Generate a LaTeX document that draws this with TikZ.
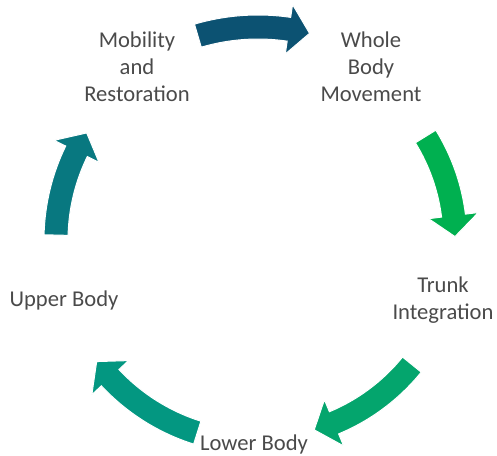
\documentclass[tikz,border=0pt]{standalone}
\usepackage{fontspec}
\setmainfont{Carlito}
\definecolor{txt}{HTML}{4A4A4A}
\definecolor{cA}{HTML}{0C5272}
\definecolor{cB}{HTML}{00B050}
\definecolor{cC}{HTML}{04A56D}
\definecolor{cD}{HTML}{039781}
\definecolor{cE}{HTML}{087880}
\newcommand\cyclearrow[4]{%
  \pgfmathsetmacro\ab{#3+21/#4*57.2958}%
  \pgfmathsetmacro\ro{#4+12}%
  \pgfmathsetmacro\ri{#4-12}%
  \pgfmathsetmacro\ho{#4+25}%
  \pgfmathsetmacro\hi{#4-25}%
  \filldraw[arrowshape,fill=#1] (#2:\ro pt) arc[start angle=#2,end angle=\ab,radius=\ro pt]
    -- (\ab:\ho pt) -- (#3:#4 pt) -- (\ab:\hi pt) -- (\ab:\ri pt)
    arc[start angle=\ab,end angle=#2,radius=\ri pt] -- cycle;}
\begin{document}
\begin{tikzpicture}[x=1pt,y=1pt,
  label/.style={font=\fontsize{22.6}{27}\selectfont,text=txt,align=center,inner sep=0pt},
  arrowshape/.style={draw=white,line width=1pt}]
\useasboundingbox (0,0) rectangle (497,455);
\begin{scope}[shift={(258,215)}]
  \cyclearrow{cA}{106.4}{76}{213}
  \cyclearrow{cB}{31.7}{1}{197}
  \cyclearrow{cC}{321}{286.5}{198}
  \cyclearrow{cD}{252.5}{217}{202}
  \cyclearrow{cE}{178.6}{148}{202}
\end{scope}
\node[label] (mob) at (137,388) {Mobility\\and\\Restoration};
\node[label] (whole) at (371,388) {Whole\\Body\\Movement};
\node[label] (trunk) at (443,155) {Trunk\\Integration};
\node[label] (upper) at (64,155) {Upper Body};
\node[label] (lower) at (254,11) {Lower Body};
\end{tikzpicture}
\end{document}
